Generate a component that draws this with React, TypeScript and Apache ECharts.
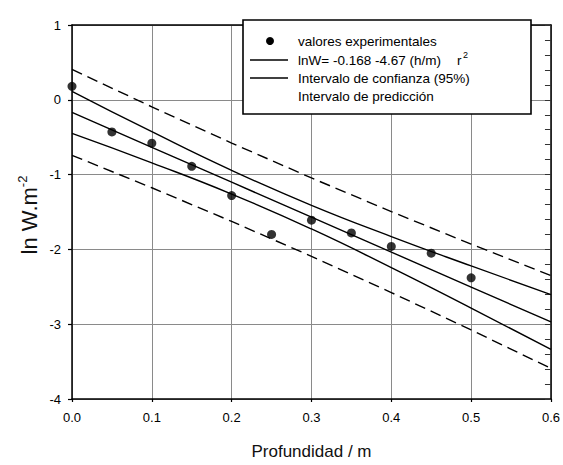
import React, { useEffect, useRef } from "react";
import * as echarts from "echarts";

const depthObs = [0, 0.05, 0.1, 0.15, 0.2, 0.25, 0.3, 0.35, 0.4, 0.45, 0.5];
const lnWObs = [0.18, -0.43, -0.58, -0.89, -1.28, -1.8, -1.61, -1.78, -1.96, -2.05, -2.38];

const bandX = [0, 0.1, 0.2, 0.3, 0.4, 0.5, 0.6];
const fitLine = [-0.168, -0.635, -1.102, -1.569, -2.036, -2.503, -2.97];
const confUpper = [0.114, -0.427, -0.944, -1.411, -1.828, -2.221, -2.604];
const confLower = [-0.45, -0.843, -1.26, -1.727, -2.244, -2.785, -3.336];
const predUpper = [0.406, -0.094, -0.578, -1.045, -1.495, -1.929, -2.35];
const predLower = [-0.742, -1.176, -1.626, -2.093, -2.577, -3.077, -3.59];

const legendLabels = [
  "valores experimentales",
  "lnW= -0.168 -4.67 (h/m)",
  "Intervalo de confianza (95%)",
  "Intervalo de predicción",
];

const xTicks = { min: 0, max: 0.6, interval: 0.1 };
const yTicks = { min: -4, max: 1, interval: 1 };

const pair = (xs: number[], ys: number[]) => xs.map((x, i) => [x, ys[i]]);

export default function App() {
  const ref = useRef<HTMLDivElement>(null);
  useEffect(() => {
    if (!ref.current) return;
    const chart = echarts.init(ref.current, null, { renderer: "svg" });
    const font = "Arial, 'Liberation Sans', sans-serif";
    const lineStyle = { color: "#000", width: 1.4 };
    const dashStyle = { color: "#000", width: 1.4, type: [11, 6] as any };
    const lx = 243, ly = 20, lw = 288, lh = 94;
    const rows = [41, 60, 78, 96];
    chart.setOption({
      animation: false,
      backgroundColor: "#fff",
      grid: { left: 72, right: 11, top: 25, bottom: 61, containLabel: false },
      xAxis: [
        {
          type: "value",
          min: xTicks.min,
          max: xTicks.max,
          interval: xTicks.interval,
          name: "Profundidad / m",
          nameLocation: "middle",
          nameGap: 44,
          nameTextStyle: { fontFamily: font, fontSize: 17, color: "#111" },
          axisLine: { onZero: false, lineStyle: { color: "#000", width: 1.5 } },
          axisTick: { show: true, length: 3, lineStyle: { color: "#000", width: 1.2 } },
          axisLabel: {
            fontFamily: font,
            fontSize: 13,
            color: "#000",
            margin: 12,
            formatter: (v: number) => v.toFixed(1),
          },
          splitLine: { show: true, lineStyle: { color: "#8a8a8a", width: 1 } },
        },
        {
          type: "value",
          position: "top",
          min: xTicks.min,
          max: xTicks.max,
          interval: xTicks.interval,
          axisLine: { show: true, onZero: false, lineStyle: { color: "#000", width: 1.5 } },
          axisTick: { show: false },
          axisLabel: { show: false },
          splitLine: { show: false },
        },
      ],
      yAxis: [
        {
          type: "value",
          min: yTicks.min,
          max: yTicks.max,
          interval: yTicks.interval,
          axisLine: { show: true, onZero: false, lineStyle: { color: "#000", width: 1.5 } },
          axisTick: { show: true, length: 4, lineStyle: { color: "#000", width: 1.2 } },
          axisLabel: { fontFamily: font, fontSize: 13, color: "#000", margin: 11 },
          splitLine: { show: true, lineStyle: { color: "#8a8a8a", width: 1 } },
        },
        {
          type: "value",
          position: "right",
          min: -4,
          max: 1,
          interval: 0.2,
          axisLine: { show: true, onZero: false, lineStyle: { color: "#000", width: 1.5 } },
          axisTick: { show: true, inside: true, length: 6, lineStyle: { color: "#333", width: 1 } },
          axisLabel: { show: false },
          splitLine: { show: false },
        },
      ],
      series: [
        {
          type: "line",
          data: pair(bandX, predUpper),
          symbol: "none",
          lineStyle: dashStyle,
          z: 3,
        },
        {
          type: "line",
          data: pair(bandX, predLower),
          symbol: "none",
          lineStyle: dashStyle,
          z: 3,
        },
        {
          type: "line",
          data: pair(bandX, confUpper),
          symbol: "none",
          smooth: true,
          lineStyle,
          z: 3,
        },
        {
          type: "line",
          data: pair(bandX, confLower),
          symbol: "none",
          smooth: true,
          lineStyle,
          z: 3,
        },
        {
          type: "line",
          data: pair(bandX, fitLine),
          symbol: "none",
          lineStyle,
          z: 3,
        },
        {
          type: "scatter",
          data: pair(depthObs, lnWObs),
          symbol: "circle",
          symbolSize: 9,
          itemStyle: { color: "#000" },
          z: 4,
        },
      ],
      graphic: [
        {
          type: "text",
          z: 50,
          x: 29,
          y: 215,
          rotation: Math.PI / 2,
          style: {
            text: "{a|ln W.m}{s|-2}",
            align: "center",
            verticalAlign: "middle",
            rich: {
              a: { fontFamily: font, fontSize: 22, fill: "#111" },
              s: { fontFamily: font, fontSize: 13, fill: "#111", padding: [0, 0, 14, 0] },
            },
          },
        },
        {
          type: "rect",
          z: 100,
          shape: { x: lx, y: ly, width: lw, height: lh },
          style: { fill: "#fff", stroke: "#000", lineWidth: 1.6 },
        },
        {
          type: "circle",
          z: 101,
          shape: { cx: 270, cy: rows[0], r: 4 },
          style: { fill: "#000" },
        },
        {
          type: "line",
          z: 101,
          shape: { x1: 250, y1: rows[1], x2: 288, y2: rows[1] },
          style: { stroke: "#000", lineWidth: 1.4 },
        },
        {
          type: "line",
          z: 101,
          shape: { x1: 250, y1: rows[2], x2: 288, y2: rows[2] },
          style: { stroke: "#000", lineWidth: 1.4 },
        },
        ...legendLabels.map((t, i) => ({
          type: "text",
          z: 101,
          x: 298,
          y: rows[i],
          style: {
            text: t,
            fill: "#000",
            font: `13.5px ${font}`,
            verticalAlign: "middle",
          },
        })),
        {
          type: "text",
          z: 101,
          x: 457,
          y: rows[1],
          style: { text: "r", fill: "#000", font: `13.5px ${font}`, verticalAlign: "middle" },
        },
        {
          type: "text",
          z: 101,
          x: 463,
          y: rows[1] - 5,
          style: { text: "2", fill: "#000", font: `9px ${font}`, verticalAlign: "middle" },
        },
      ],
    });
    return () => chart.dispose();
  }, []);
  return (
    <div
      ref={ref}
      style={{ position: "absolute", left: 0, top: 0, width: 563, height: 465 }}
    />
  );
}
